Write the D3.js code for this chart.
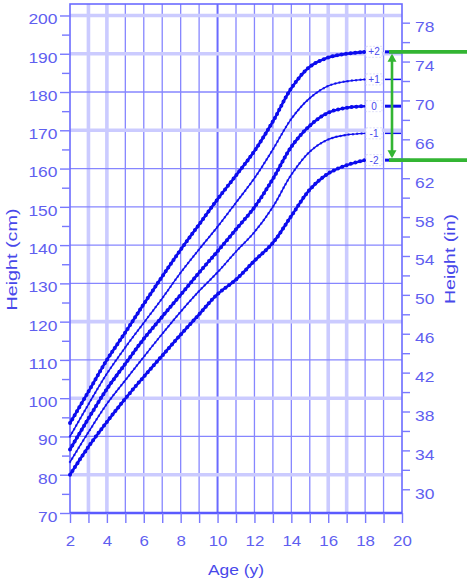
<!DOCTYPE html>
<html><head><meta charset="utf-8">
<script src="https://cdn.jsdelivr.net/npm/d3@7"></script>
<style>
html,body{margin:0;padding:0;background:#fff;}
svg{display:block;}
</style></head><body>
<script>
// ---- data ----
const ages      = [2, 3, 4, 5, 6, 7, 8, 9, 10, 11, 12, 13, 14, 15, 16, 17, 18];
const sdPlus2   = [93.5, 101.7, 110, 117.2, 124.6, 131.8, 138.8, 145.4, 152, 158.2, 164.6, 172.3, 181, 186.6, 189, 190, 190.5];
const sdPlus1   = [90, 98.4, 106.4, 113.3, 119.7, 126.1, 132.8, 138.9, 144.8, 151.1, 157.5, 165, 173, 178.4, 181.6, 182.8, 183.3];
const sdMedian  = [86.6, 94.7, 102.4, 109, 115.5, 121.3, 127, 132.8, 138.4, 144.1, 149.9, 157.3, 165.7, 171.2, 174.6, 175.9, 176.3];
const sdMinus1  = [83.3, 91.1, 98.5, 104.7, 110.8, 116.8, 122.6, 128, 132.9, 138.3, 143.4, 150, 158.4, 164.4, 167.6, 168.8, 169.2];
const sdMinus2  = [80, 87.3, 93.8, 99.9, 105.6, 111.1, 116.6, 121.9, 127.2, 131, 135.9, 140.6, 147.6, 154.5, 158.7, 160.9, 162.2];
const curveLabels = ["+2", "+1", "0", "-1", "-2"];
const cmTicks      = [70, 80, 90, 100, 110, 120, 130, 140, 150, 160, 170, 180, 190, 200];
const cmMinorTicks = [75, 85, 95, 105, 115, 125, 135, 145, 155, 165, 175, 185, 195];
const inchTicks    = [30, 32, 34, 36, 38, 40, 42, 44, 46, 48, 50, 52, 54, 56, 58, 60, 62, 64, 66, 68, 70, 72, 74, 76, 78];
const inchLabels   = [30, 34, 38, 42, 46, 50, 54, 58, 62, 66, 70, 74, 78];
const ageTicks     = [2, 3, 4, 5, 6, 7, 8, 9, 10, 11, 12, 13, 14, 15, 16, 17, 18, 19, 20];
const ageLabels    = [2, 4, 6, 8, 10, 12, 14, 16, 18, 20];

const series = [sdPlus2, sdPlus1, sdMedian, sdMinus1, sdMinus2];

// ---- styling ----
const W = 467, H = 587;
const FONT = "'Liberation Sans', Arial, sans-serif";
const TXT = "#5f5ff0";
const CURVE = "#0c0cee";
const GREEN = "#33b533";

const svg = d3.select("body").append("svg").attr("width", W).attr("height", H);

const x = d3.scaleLinear().domain([2, 20]).range([70, 402]);
const y = d3.scaleLinear().domain([70, 203]).range([513, 4]);
const yIn = d3.scaleLinear().domain([70 / 2.54, 203 / 2.54]).range([513, 4]);

// grid
const wideV = new Set([3, 4, 16, 17]);
const wideH = new Set([80, 100, 120, 170, 190, 200]);
const grid = svg.append("g");
grid.selectAll("line.v").data(ageTicks.filter(d => d > 2 && d < 20)).join("line")
  .attr("x1", d => x(d)).attr("x2", d => x(d)).attr("y1", y(203)).attr("y2", y(70))
  .attr("stroke", d => wideV.has(d) ? "#cbcbff" : (d === 10 ? "#6a6aff" : "#8686ff"))
  .attr("stroke-width", d => wideV.has(d) ? 3.6 : (d === 10 ? 2 : 1.3));
grid.selectAll("line.h").data(cmTicks.filter(d => d > 70)).join("line")
  .attr("x1", x(2)).attr("x2", x(20)).attr("y1", d => y(d)).attr("y2", d => y(d))
  .attr("stroke", d => wideH.has(d) ? "#cbcbff" : "#8686ff")
  .attr("stroke-width", d => wideH.has(d) ? 3.6 : 1.3);

// frame
svg.append("rect").attr("x", x(2)).attr("y", y(203)).attr("width", x(20) - x(2)).attr("height", y(70) - y(203))
  .attr("fill", "none").attr("stroke", "#6b6bff").attr("stroke-width", 1.6);
svg.append("line").attr("x1", x(2)).attr("x2", x(20)).attr("y1", y(70)).attr("y2", y(70))
  .attr("stroke", "#5a5aff").attr("stroke-width", 2.4);

function styleAxis(g) {
  g.select(".domain").remove();
  g.selectAll(".tick line").attr("stroke", "#7878ff").attr("stroke-width", 1.4);
  g.selectAll(".tick text").attr("fill", TXT).attr("font-family", FONT).attr("font-size", "14.5px");
}

// left axis
const leftMinor = svg.append("g").attr("transform", `translate(${x(2)},0)`)
  .call(d3.axisLeft(y).tickValues(cmMinorTicks).tickSize(8).tickFormat(""));
styleAxis(leftMinor);
const left = svg.append("g").attr("transform", `translate(${x(2)},0)`)
  .call(d3.axisLeft(y).tickValues(cmTicks).tickSize(10).tickPadding(2.5));
styleAxis(left);
left.selectAll(".tick text").attr("dy", "0.58em")
  .attr("textLength", d => String(d).length * 9.7).attr("lengthAdjust", "spacingAndGlyphs");

// right axis
const right = svg.append("g").attr("transform", `translate(${x(20)},0)`)
  .call(d3.axisRight(yIn).tickValues(inchTicks).tickSize(8).tickPadding(5)
    .tickFormat(d => inchLabels.includes(d) ? d : ""));
styleAxis(right);
right.selectAll(".tick text").attr("dy", "0.62em")
  .attr("textLength", d => inchLabels.includes(d) ? String(d).length * 9.7 : null).attr("lengthAdjust", "spacingAndGlyphs");

// bottom axis
const bottom = svg.append("g").attr("transform", `translate(0,${y(70)})`)
  .call(d3.axisBottom(x).tickValues(ageTicks).tickSize(10).tickPadding(13)
    .tickFormat(d => ageLabels.includes(d) ? d : ""));
styleAxis(bottom);
bottom.selectAll(".tick text")
  .attr("textLength", d => ageLabels.includes(d) ? String(d).length * 9.4 : null).attr("lengthAdjust", "spacingAndGlyphs");

// axis titles
svg.append("text").attr("transform", "translate(17,259.5) rotate(-90)").attr("text-anchor", "middle")
  .attr("fill", "#4848ea").attr("font-family", FONT).attr("font-size", "14.5px")
  .attr("textLength", 102).attr("lengthAdjust", "spacingAndGlyphs").text("Height (cm)");
svg.append("text").attr("transform", "translate(455,259) rotate(-90)").attr("text-anchor", "middle")
  .attr("fill", "#4848ea").attr("font-family", FONT).attr("font-size", "14.5px")
  .attr("textLength", 90).attr("lengthAdjust", "spacingAndGlyphs").text("Height (in)");
svg.append("text").attr("x", 236).attr("y", 575).attr("text-anchor", "middle")
  .attr("fill", "#4848ea").attr("font-family", FONT).attr("font-size", "14.5px")
  .attr("textLength", 56).attr("lengthAdjust", "spacingAndGlyphs").text("Age (y)");

// curves
const line = d3.line().x((d, i) => x(ages[i])).y(d => y(d)).curve(d3.curveCatmullRom.alpha(0.5));
const curves = svg.append("g");
series.forEach((s, k) => {
  const thick = k % 2 === 0;
  curves.append("path").attr("d", line(s)).attr("fill", "none").attr("stroke", CURVE)
    .attr("stroke-width", thick ? 2.6 : 1.4).attr("stroke-linejoin", "round");
  curves.append("path").attr("d", line(s)).attr("fill", "none").attr("stroke", CURVE)
    .attr("stroke-width", thick ? 4 : 2.5).attr("stroke-linecap", "round")
    .attr("stroke-dasharray", thick ? "0 4.6" : "0 4.2").attr("opacity", thick ? 1 : 0.75);
});

// end markers + labels
const last = ages.length - 1;
series.forEach((s, k) => {
  const thick = k % 2 === 0;
  const yy = y(s[last]);
  svg.append("line").attr("x1", 385).attr("x2", 401).attr("y1", yy).attr("y2", yy)
    .attr("stroke", CURVE).attr("stroke-width", thick ? 3 : 1.5);
  svg.append("rect").attr("x", 366).attr("y", yy - 5.5).attr("width", 16).attr("height", 11)
    .attr("fill", "#fff").attr("stroke", "#d8d8f8").attr("stroke-width", 0.8).attr("stroke-dasharray", "2 1.5");
  svg.append("text").attr("x", 374).attr("y", yy).attr("dy", "0.35em").attr("text-anchor", "middle")
    .attr("fill", "#4a4aee").attr("font-family", FONT).attr("font-size", "10px").text(curveLabels[k]);
});

// green bracket (target range from +2 to -2 at age 18)
const yTop = y(sdPlus2[last]), yBot = y(sdMinus2[last]);
const gx = 392;
svg.append("line").attr("x1", 389).attr("x2", W).attr("y1", yTop).attr("y2", yTop)
  .attr("stroke", GREEN).attr("stroke-width", 3.6);
svg.append("line").attr("x1", 389).attr("x2", W).attr("y1", yBot).attr("y2", yBot)
  .attr("stroke", GREEN).attr("stroke-width", 3.6);
svg.append("line").attr("x1", gx).attr("x2", gx).attr("y1", yTop + 4).attr("y2", yBot - 4)
  .attr("stroke", GREEN).attr("stroke-width", 2.6);
svg.append("path").attr("d", `M${gx},${yTop + 2}L${gx - 4.5},${yTop + 10}L${gx + 4.5},${yTop + 10}Z`).attr("fill", GREEN);
svg.append("path").attr("d", `M${gx},${yBot - 2}L${gx - 4.5},${yBot - 10}L${gx + 4.5},${yBot - 10}Z`).attr("fill", GREEN);
</script>
</body></html>
